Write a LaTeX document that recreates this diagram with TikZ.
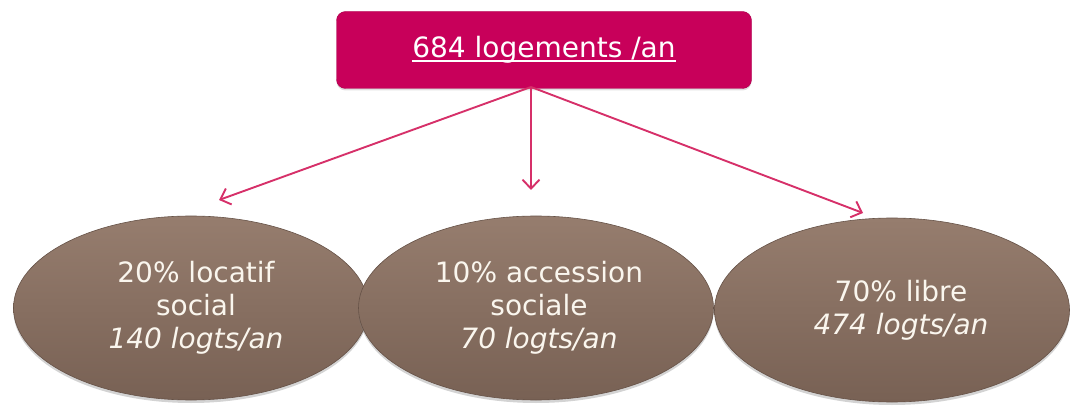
\documentclass[tikz,border=0pt]{standalone}
\usepackage{fontspec}
\setmainfont{DejaVu Sans}
\usetikzlibrary{shapes.geometric,arrows.meta,shadows}

\definecolor{logred}{RGB}{200,0,90}
\definecolor{logarrow}{RGB}{214,48,105}
\definecolor{brownhi}{RGB}{150,125,110}
\definecolor{brownlo}{RGB}{120,97,84}
\definecolor{cream}{RGB}{250,246,238}

% thick underline for the total
\newcommand\ulined[1]{\setbox0\hbox{#1}\rlap{\copy0}\rule[-4pt]{\wd0}{1.5pt}}

\begin{document}
\begin{tikzpicture}[x=1pt, y=-1pt,
    total/.style={draw=logred!85!black, fill=logred, rounded corners=9pt,
        minimum width=415pt, minimum height=77pt, text=white,
        font=\fontsize{28}{32}\selectfont,
        drop shadow={opacity=0.25, shadow xshift=0pt, shadow yshift=-2pt}},
    share/.style={ellipse, draw=brownlo!85!black, line width=0.6pt,
        top color=brownhi, bottom color=brownlo, inner sep=0pt,
        minimum width=355pt, minimum height=184pt, text=cream, align=center,
        font=\fontsize{28}{33}\selectfont,
        drop shadow={opacity=0.35, shadow xshift=0pt, shadow yshift=-3pt}},
    split/.style={draw=logarrow, line width=1.9pt,
        -{Straight Barb[length=9pt, width=17pt]}}]
    \useasboundingbox (0,0) rectangle (1076,414);

    % total per year
    \node[total] (total) at (544,50) {\ulined{684 logements /an}};

    % the three shares
    \node[share] (social) at (191,308) {\hspace{10pt}20\% locatif\\\hspace{10pt}social\\\hspace{10pt}\textit{140 logts/an}};
    \node[share] (accession) at (536,308) {\hspace{6pt}10\% accession\\\hspace{6pt}sociale\\\hspace{6pt}\textit{70 logts/an}};
    \node[share] (libre) at (892,310) {\hspace{18pt}70\% libre\\\hspace{18pt}\textit{474 logts/an}};

    % where the arrows start and stop
    \coordinate (hub) at (531,87);
    \coordinate (tosocial) at (219,200);
    \coordinate (toaccession) at (531,190);
    \coordinate (tolibre) at (863,213);

    % split arrows
    \draw[split] (hub) -- (tosocial);
    \draw[split] (hub) -- (toaccession);
    \draw[split] (hub) -- (tolibre);
\end{tikzpicture}
\end{document}
